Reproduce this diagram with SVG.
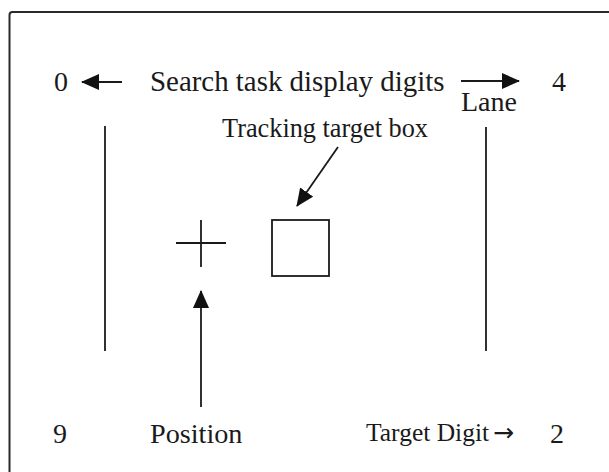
<svg xmlns="http://www.w3.org/2000/svg" width="609" height="472" viewBox="0 0 609 472">
  <style>
    .t { font-family: "Liberation Serif", "Times New Roman", serif; fill: #1a1a1a; }
    .ln { stroke: #1a1a1a; stroke-width: 1.8; fill: none; }
    .frame { stroke: #2a2a2a; stroke-width: 2; fill: none; }
    .arw { font-family: "DejaVu Sans", sans-serif; }
  </style>
  <defs>
    <marker id="head" viewBox="0 0 18 16" refX="17" refY="8" markerWidth="18" markerHeight="16" markerUnits="userSpaceOnUse" orient="auto">
      <path d="M0,0 L18,8 L0,16 z" fill="#111"/>
    </marker>
  </defs>
  <rect width="609" height="472" fill="#ffffff"/>

  <g id="frame">
    <path class="frame" d="M9.5,480 L9.5,15 Q9.5,12 12.5,12 L620,12"/>
  </g>

  <g id="digit-0"><text class="t" x="54" y="91" font-size="28">0</text></g>
  <g id="search-label"><text class="t" x="150" y="91" font-size="28.9">Search task display digits</text></g>
  <g id="digit-4"><text class="t" x="552" y="91" font-size="28">4</text></g>
  <g id="lane-label"><text class="t" x="461" y="111" font-size="28">Lane</text></g>
  <g id="tracking-label"><text class="t" x="222" y="137" font-size="26.3">Tracking target box</text></g>

  <g id="lane-left"><line class="ln" x1="105" y1="126" x2="105" y2="351"/></g>
  <g id="lane-right"><line class="ln" x1="486" y1="127" x2="486" y2="351"/></g>

  <g id="cross">
    <line class="ln" x1="176" y1="243" x2="226" y2="243"/>
    <line class="ln" x1="201" y1="220" x2="201" y2="267"/>
  </g>

  <g id="target-box"><rect class="ln" x="272" y="220" width="57" height="56"/></g>

  <g id="digit-9"><text class="t" x="53" y="443" font-size="28">9</text></g>
  <g id="position-label"><text class="t" x="150" y="443" font-size="28.2">Position</text></g>
  <g id="target-digit-label"><text class="t" x="366" y="441" font-size="25.5">Target Digit<tspan class="arw" font-size="25" dx="4">→</tspan></text></g>
  <g id="digit-2"><text class="t" x="550" y="443" font-size="28">2</text></g>

  <g id="connectors">
    <line class="ln" x1="122" y1="82" x2="82" y2="82" marker-end="url(#head)"/>
    <line class="ln" x1="461" y1="81" x2="519" y2="81" marker-end="url(#head)"/>
    <line class="ln" x1="338" y1="147" x2="297" y2="206" marker-end="url(#head)"/>
    <line class="ln" x1="201" y1="407" x2="201" y2="291" marker-end="url(#head)"/>
  </g>
</svg>
